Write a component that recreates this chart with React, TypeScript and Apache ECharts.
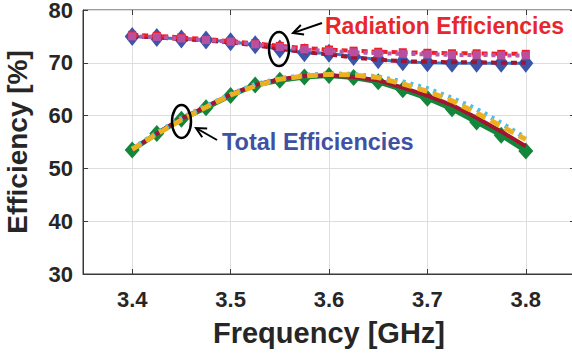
import React, { useEffect, useRef } from "react";
import * as echarts from "echarts";

const frequencies = [3.4, 3.425, 3.45, 3.475, 3.5, 3.525, 3.55, 3.575, 3.6, 3.625, 3.65, 3.675, 3.7, 3.725, 3.75, 3.775, 3.8];

// Radiation efficiencies
const radRed = [75.3, 75.1, 74.8, 74.5, 74.1, 73.7, 73.2, 72.8, 72.5, 72.3, 72.1, 72.0, 71.9, 71.8, 71.8, 71.7, 71.7];
const radMagenta = [75.0, 74.9, 74.6, 74.3, 74.0, 73.5, 73.0, 72.5, 72.2, 72.0, 71.8, 71.7, 71.6, 71.5, 71.5, 71.4, 71.4];
const radBlue = [75.0, 74.8, 74.5, 74.3, 74.0, 73.4, 72.6, 71.9, 71.8, 71.2, 70.6, 70.2, 70.0, 69.9, 69.9, 69.9, 69.9];
const radMaroon = [75.0, 74.8, 74.5, 74.2, 73.9, 73.3, 72.7, 72.0, 71.6, 71.0, 70.6, 70.3, 70.2, 70.1, 70.1, 70.0, 70.0];

// Total efficiencies
const totGreen = [53.5, 56.6, 59.3, 61.5, 63.8, 65.8, 66.7, 67.3, 67.6, 67.2, 66.4, 64.9, 63.3, 61.3, 58.8, 56.3, 53.3];
const totYellow = [53.6, 56.5, 59.2, 61.6, 63.9, 65.6, 66.9, 67.5, 67.8, 67.7, 67.2, 66.0, 64.6, 62.8, 60.5, 58.0, 55.5];
const totLightBlue = [53.7, 56.7, 59.5, 61.8, 64.0, 65.9, 67.0, 67.6, 67.9, 67.8, 67.3, 66.4, 65.1, 63.3, 61.2, 58.6, 55.7];
const totMaroon = [53.5, 56.6, 59.4, 61.7, 64.0, 65.8, 66.9, 67.5, 67.6, 67.3, 66.7, 65.3, 63.8, 62.0, 59.6, 57.0, 54.2];

const xTickLabels = ["3.4", "3.5", "3.6", "3.7", "3.8"];
const yTickLabels = ["30", "40", "50", "60", "70", "80"];

const FONT = "'Liberation Sans', Arial, Helvetica, sans-serif";
const INK = "#262626";

function pairs(ys: number[]) {
  return frequencies.map((x, i) => [x, ys[i]]);
}

function arrow(x1: number, y1: number, x2: number, y2: number) {
  const dx = x2 - x1;
  const dy = y2 - y1;
  const len = Math.sqrt(dx * dx + dy * dy);
  const ux = dx / len;
  const uy = dy / len;
  const hl = 10;
  const hw = 5;
  const bx = x2 - ux * hl;
  const by = y2 - uy * hl;
  const nx = -uy * hw;
  const ny = ux * hw;
  return [
    { type: "line", shape: { x1, y1, x2: x2 - ux * 1, y2: y2 - uy * 1 }, style: { stroke: "#000", lineWidth: 2 }, z: 100 },
    {
      type: "polyline",
      shape: { points: [[bx + nx, by + ny], [x2, y2], [bx - nx, by - ny]] },
      style: { stroke: "#000", lineWidth: 2, fill: "none" },
      z: 100,
    },
  ];
}

export default function App() {
  const ref = useRef<HTMLDivElement>(null);
  useEffect(() => {
    if (!ref.current) return;
    const chart = echarts.init(ref.current, undefined, { renderer: "svg" });
    const lineSeries = (
      name: string,
      ys: number[],
      color: string,
      width: number,
      type: any,
      symbol: string,
      symbolSize: any,
      symbolColor?: string,
      z = 2
    ) => ({
      name,
      type: "line",
      data: pairs(ys),
      lineStyle: { color, width, type },
      itemStyle: { color: symbolColor || color },
      symbol,
      symbolSize,
      showSymbol: symbol !== "none",
      z,
    });
    chart.setOption({
      animation: false,
      backgroundColor: "#ffffff",
      textStyle: { fontFamily: FONT },
      grid: {
        left: 83,
        top: 10,
        width: 492,
        height: 264,
        containLabel: false,
        outerBoundsMode: "none",
        show: true,
        borderColor: "#3a3a3a",
        borderWidth: 1,
        backgroundColor: "transparent",
      },
      xAxis: [
        {
          type: "value",
          min: 3.35,
          max: 3.85,
          splitNumber: 5,
          name: "Frequency [GHz]",
          nameLocation: "middle",
          nameGap: 44,
          nameTextStyle: { fontFamily: FONT, fontSize: 29, fontWeight: "bold", color: INK },
          axisLine: { show: true, lineStyle: { color: "#3a3a3a", width: 1 } },
          axisTick: { show: true, inside: true, length: 5, lineStyle: { color: "#3a3a3a" } },
          axisLabel: {
            showMinLabel: false,
            showMaxLabel: false,
            margin: 14,
            fontFamily: FONT,
            fontSize: 22,
            fontWeight: "bold",
            color: INK,
            formatter: (v: number) => {
              const s = v.toFixed(1);
              return xTickLabels.includes(s) && Math.abs(v - parseFloat(s)) < 1e-6 ? s : "";
            },
          },
          splitLine: { show: true, lineStyle: { color: "#dedede", width: 1 } },
        },
        {
          type: "value",
          position: "top",
          min: 3.35,
          max: 3.85,
          splitNumber: 5,
          axisLine: { show: false },
          axisTick: { show: true, inside: true, length: 5, lineStyle: { color: "#3a3a3a" } },
          axisLabel: { show: false },
          splitLine: { show: false },
        },
      ],
      yAxis: [
        {
          type: "value",
          min: 30,
          max: 80,
          interval: 10,
          name: "Efficiency [%]",
          nameLocation: "middle",
          nameGap: 52,
          nameTextStyle: { fontFamily: FONT, fontSize: 28, fontWeight: "bold", color: INK },
          axisLine: { show: true, lineStyle: { color: "#3a3a3a", width: 1 } },
          axisTick: { show: true, inside: true, length: 5, lineStyle: { color: "#3a3a3a" } },
          axisLabel: {
            margin: 10,
            fontFamily: FONT,
            fontSize: 22,
            fontWeight: "bold",
            color: INK,
            formatter: (v: number) => (yTickLabels.includes(String(v)) ? String(v) : ""),
          },
          splitLine: { show: true, lineStyle: { color: "#dedede", width: 1 } },
        },
        {
          type: "value",
          position: "right",
          min: 30,
          max: 80,
          interval: 10,
          axisLine: { show: false },
          axisTick: { show: true, inside: true, length: 5, lineStyle: { color: "#3a3a3a" } },
          axisLabel: { show: false },
          splitLine: { show: false },
        },
      ],
      series: [
        lineSeries("Rad blue", radBlue, "#2f7fcf", 3, "solid", "diamond", [15, 19], "#3a55aa", 2),
        lineSeries("Rad maroon", radMaroon, "#a2142f", 4, [6, 4], "none", 0, undefined, 3),
        lineSeries("Rad red", radRed, "#f01e28", 4, [6, 4], "rect", 8, "#f01e28", 4),
        lineSeries("Rad magenta", radMagenta, "#b85aa8", 4, [4, 4], "rect", 8, "#b8509f", 5),
        lineSeries("Tot green", totGreen, "#12863a", 5, "solid", "diamond", [15, 17], "#12863a", 2),
        lineSeries("Tot maroon", totMaroon, "#a2142f", 4, "solid", "none", 0, undefined, 3),
        lineSeries("Tot light blue", totLightBlue, "#4dbeee", 5, [3, 5], "none", 0, undefined, 4),
        lineSeries("Tot yellow", totYellow, "#edb120", 5, [10, 6], "none", 0, undefined, 5),
      ],
      graphic: [
        {
          type: "text",
          left: 325,
          top: 14,
          z: 100,
          style: { text: "Radiation Efficiencies", fill: "#e8262b", font: `bold 23px ${FONT}` },
        },
        {
          type: "text",
          left: 222,
          top: 130,
          z: 100,
          style: { text: "Total Efficiencies", fill: "#3e51a3", font: `bold 23.5px ${FONT}` },
        },
        {
          type: "ellipse",
          shape: { cx: 279, cy: 49, rx: 10, ry: 17 },
          style: { stroke: "#000", lineWidth: 2.5, fill: "none" },
          z: 100,
        },
        {
          type: "ellipse",
          shape: { cx: 181.5, cy: 121.5, rx: 9.5, ry: 16.5 },
          style: { stroke: "#000", lineWidth: 2.5, fill: "none" },
          z: 100,
        },
        ...arrow(322, 23, 293, 33),
        ...arrow(217, 140, 196, 128),
      ],
    });
    return () => chart.dispose();
  }, []);
  return (
    <div
      ref={ref}
      style={{ position: "fixed", left: 0, top: 0, width: 572, height: 353, background: "#fff" }}
    />
  );
}
